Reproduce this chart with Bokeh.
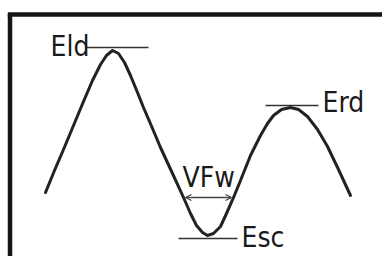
from bokeh.plotting import figure
from bokeh.models import Range1d, Arrow, OpenHead
from bokeh.core.properties import value
from bokeh.embed import file_html
from bokeh.resources import INLINE

H = 256  # reference height, y values are measured upward from the bottom

# curve (x, pixel row)
curve_x = [45, 54, 63, 73, 83, 92, 100, 106, 112, 118, 124, 130, 137, 143, 152, 160,
           172, 183, 190, 196, 202, 207, 213, 220, 226, 233, 240, 250, 260, 267, 273,
           281, 290, 298, 307, 317, 327, 338, 350]
curve_row = [192, 170, 149, 125, 101, 80, 64, 55, 50, 53, 62, 75, 92, 107, 128, 147,
             173, 197, 213, 225, 232, 235, 233, 226, 213, 197, 180, 155, 135, 123, 115,
             109, 107, 109, 116, 129, 146, 169, 195]
curve_y = [H - r for r in curve_row]

# level markers
lvl_names = ["Eld", "Erd", "Esc"]
lvl_x0 = [85, 265, 178]
lvl_x1 = [148, 318, 237]
lvl_row = [47, 105, 238]
lvl_y = [H - r for r in lvl_row]

# label text positions
lab_text = ["Eld", "Erd", "Esc", "VFw"]
lab_x = [50, 322, 241, 182]
lab_row = [46, 102, 237, 177]
lab_y = [H - r for r in lab_row]

# width arrow
fw_x0, fw_x1, fw_row = 185, 231, 197

FONT = "'Liberation Sans Narrow', 'DejaVu Sans Condensed', 'Roboto Condensed', 'Liberation Sans', Arial, sans-serif"

p = figure(width=382, height=256, x_range=Range1d(0, 382), y_range=Range1d(0, 256),
           output_backend="svg", toolbar_location=None, min_border=0)
p.axis.visible = False
p.grid.visible = False
p.outline_line_color = None
p.background_fill_color = "white"
p.border_fill_color = "white"

# frame box (top and left edges visible)
p.segment(x0=[7.25, 9.5], y0=[H - 14, H - 14], x1=[382, 9.5], y1=[H - 14, 0],
          line_width=4.5, line_color="#151515", line_cap="butt")

p.line(x=curve_x, y=curve_y, line_width=3, line_color="#222222", line_join="round",
       line_cap="round")

p.segment(x0=lvl_x0, y0=lvl_y, x1=lvl_x1, y1=lvl_y, line_width=1.6, line_color="#333333")

p.text(x=lab_x, y=lab_y, text=lab_text, text_font=value(FONT),
       text_font_size="28px", text_align="left", text_baseline="middle",
       text_color="#1a1a1a")

p.add_layout(Arrow(x_start=fw_x0, y_start=H - fw_row, x_end=fw_x1, y_end=H - fw_row,
                   line_width=1.5, line_color="#444444",
                   start=OpenHead(size=6, line_width=1.3, line_color="#444444"),
                   end=OpenHead(size=6, line_width=1.3, line_color="#444444")))

open("out.html", "w").write(file_html(p, INLINE))
